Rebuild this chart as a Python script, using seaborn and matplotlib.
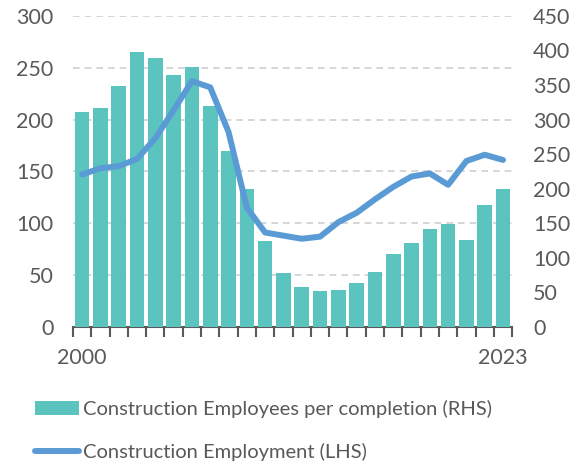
import numpy as np
import pandas as pd
import matplotlib
matplotlib.use("Agg")
import matplotlib.pyplot as plt
import seaborn as sns
from matplotlib.patches import Patch
from matplotlib.lines import Line2D

years = list(range(2000, 2024))
employees_per_completion = [311, 317, 349, 398, 389, 364, 376, 319, 254, 199, 124, 78,
                            57, 52, 54, 64, 80, 105, 122, 141, 149, 126, 176, 200]
construction_employment = [147, 153, 155, 162, 182, 209, 237, 231, 188, 115, 91, 88,
                           85, 87, 101, 110, 123, 135, 145, 148, 137, 160, 166, 161]
left_ticks = [0, 50, 100, 150, 200, 250, 300]
right_ticks = [0, 50, 100, 150, 200, 250, 300, 350, 400, 450]
xtick_labels = ["2000", "2023"]
bar_label = "Construction Employees per completion (RHS)"
line_label = "Construction Employment (LHS)"

df = pd.DataFrame({"year": [str(y) for y in years],
                   "pos": np.arange(len(years)),
                   "epc": employees_per_completion,
                   "emp": construction_employment})

sns.set_theme(style="white")
plt.rcParams["font.family"] = ["Lato", "DejaVu Sans"]
txt = "#595959"
bar_color = "#5BC4BF"
line_color = "#5B9BD5"

fig = plt.figure(figsize=(5.84, 4.65), dpi=100)
ax = fig.add_axes([0.125, 0.297, 0.752, 0.669])
ax2 = ax.twinx()
ax3 = ax.twinx()

# bars on right axis
sns.barplot(data=df, x="year", y="epc", ax=ax2, color=bar_color, width=0.8,
            saturation=1, linewidth=0)
ax2.set_ylim(0, 450)
ax2.set_yticks(right_ticks)
ax2.tick_params(axis="y", length=0, pad=15, labelsize=15.5, labelcolor=txt)
ax2.set_xlabel("")
ax2.set_ylabel("")

# line on left scale
sns.lineplot(data=df, x="pos", y="emp", ax=ax3, color=line_color, linewidth=4.3,
             solid_capstyle="round", solid_joinstyle="round")
ax3.set_ylim(0, 300)
ax3.set_yticks([])
ax3.set_xlabel("")
ax3.set_ylabel("")

# grid / left axis
ax.set_ylim(0, 300)
ax.set_yticks(left_ticks)
ax.yaxis.grid(True, linestyle=(0, (4, 3)), color="#D0D0D0", linewidth=1.2)
ax.tick_params(axis="y", length=0, pad=14, labelsize=15.5, labelcolor=txt)

for a in (ax, ax2, ax3):
    for s in ("top", "left", "right", "bottom"):
        a.spines[s].set_visible(False)
    a.tick_params(axis="x", which="both", bottom=False, labelbottom=False)
ax.spines["bottom"].set_visible(True)
ax.spines["bottom"].set_color(txt)
ax.spines["bottom"].set_linewidth(1.5)

ax.set_xlim(-0.5, len(years) - 0.5)
ax.set_xticks([0, len(years) - 1])
ax.set_xticklabels(xtick_labels)
ax.set_xticks(np.arange(-0.5, len(years)), minor=True)
ax.tick_params(axis="x", which="major", bottom=True, labelbottom=True, length=0,
               pad=15, labelsize=15.5, labelcolor=txt)
ax.tick_params(axis="x", which="minor", bottom=True, length=7, width=1.5, color=txt)
ax.set_xlabel("")

handles = [Patch(facecolor=bar_color, edgecolor="none", label=bar_label),
           Line2D([0], [0], color=line_color, linewidth=4.3, solid_capstyle="round", label=line_label)]
fig.legend(handles=handles, loc="upper left", bbox_to_anchor=(0.06, 0.14),
           frameon=False, fontsize=14.5, labelcolor=txt, handlelength=2.2,
           handletextpad=0.2, labelspacing=1.25, borderaxespad=0, borderpad=0)

fig.savefig("out.png", dpi=100)
